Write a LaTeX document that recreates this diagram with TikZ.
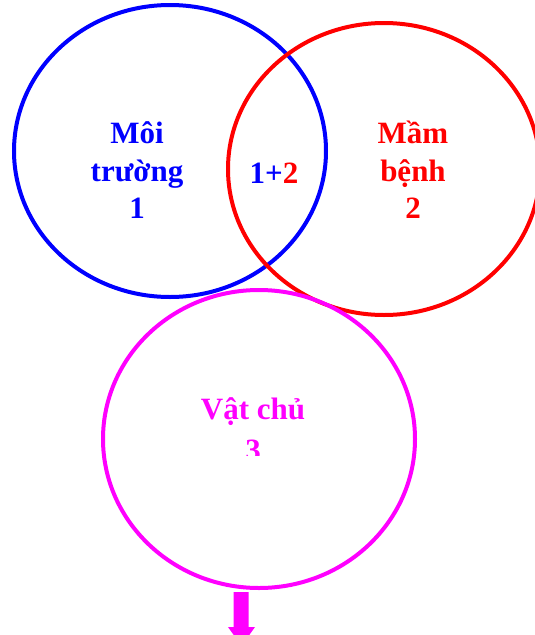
\documentclass[tikz,border=0pt]{standalone}
\usepackage{fontspec}
\setmainfont{Liberation Serif}
\definecolor{cblue}{RGB}{0,0,255}
\definecolor{cred}{RGB}{255,0,0}
\definecolor{cmag}{RGB}{255,0,255}
\begin{document}
\begin{tikzpicture}[x=1pt,y=-1pt,
  ring/.style={line width=4pt},
  lbl/.style={anchor=base,inner sep=0pt,font=\bfseries\fontsize{31}{37}\selectfont}]
\useasboundingbox (0,0) rectangle (535,635);
\begin{scope}
\clip (0,0) rectangle (535,635);
% the three overlapping factors
\draw[ring,cblue] (170,151) ellipse [x radius=156, y radius=146];
\draw[ring,cred] (384,169) ellipse [x radius=156, y radius=146];
\draw[ring,cmag] (259,439) ellipse [x radius=156, y radius=149];

% labels of the first circle
\node[lbl,text=cblue] (moi) at (137,143) {Môi};
\node[lbl,text=cblue] (truong) at (137,181) {trường};
\node[lbl,text=cblue] (one) at (137,218) {1};

% overlap of 1 and 2
\node[lbl] (both) at (274,183) {\textcolor{cblue}{1+}\textcolor{cred}{2}};

% labels of the second circle
\node[lbl,text=cred] (mam) at (413,143) {Mầm};
\node[lbl,text=cred] (benh) at (413,181) {bệnh};
\node[lbl,text=cred] (two) at (413,218) {2};

% labels of the third circle, the number cut by its text box
\node[lbl,text=cmag] (vat) at (253,419) {Vật chủ};
\begin{scope}
\clip (200,425) rectangle (310,455);
\node[lbl,text=cmag] (three) at (253,460) {3};
\end{scope}

% block arrow leading downwards
\fill[cmag] (233.5,592) -- (248.5,592) -- (248.5,627) -- (255,627)
  -- (241.5,646) -- (228,627) -- (233.5,627) -- cycle;
\end{scope}
\end{tikzpicture}
\end{document}
